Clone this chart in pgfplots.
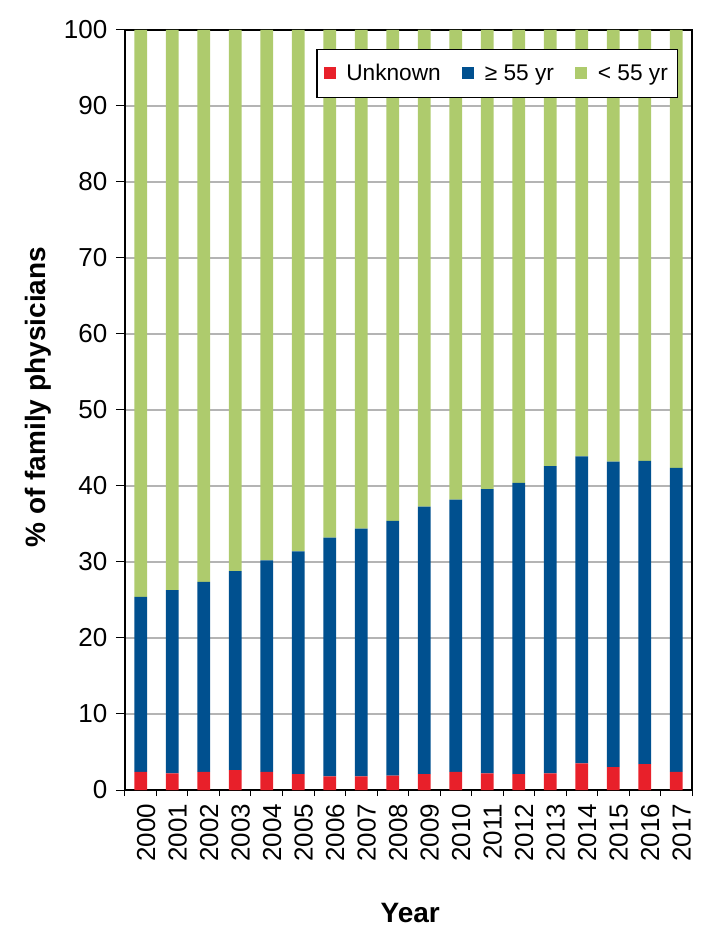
\documentclass[border=0pt]{standalone}
\usepackage{fontspec}
\setmainfont{Liberation Sans}
\usepackage{pgfplots}
\pgfplotsset{compat=1.18}
\usepackage{pgfplotstable}
\definecolor{cred}{HTML}{E8202A}
\definecolor{cblue}{HTML}{00508F}
\definecolor{cgreen}{HTML}{AECB6D}
\definecolor{cgrid}{HTML}{B4B4B4}
\pgfplotstableread{
x unk ge lt
0 2.4 23.0 74.6
1 2.2 24.1 73.7
2 2.4 25.0 72.6
3 2.6 26.2 71.2
4 2.4 27.8 69.8
5 2.1 29.3 68.6
6 1.8 31.4 66.8
7 1.8 32.6 65.6
8 1.9 33.5 64.6
9 2.1 35.2 62.7
10 2.4 35.8 61.8
11 2.2 37.4 60.4
12 2.1 38.3 59.6
13 2.2 40.4 57.4
14 3.5 40.4 56.1
15 3.0 40.2 56.8
16 3.4 39.9 56.7
17 2.4 40.0 57.6
}\datatable
\begin{document}
\begin{tikzpicture}
\useasboundingbox (-93.75pt,-103.5pt) rectangle (446.25pt,592.5pt);
\begin{axis}[
  scale only axis, width=425.25pt, height=570pt,
  ybar stacked, bar width=9.5pt,
  xmin=-0.5, xmax=17.5, ymin=0, ymax=100,
  xtick={0,...,17},
  xticklabels={2000,2001,2002,2003,2004,2005,2006,2007,2008,2009,2010,2011,2012,2013,2014,2015,2016,2017},
  minor xtick={-0.5,0.5,...,17.5},
  major x tick style={draw=none},
  minor tick length=4.5pt,
  ytick={0,10,...,100},
  major tick length=6.75pt,
  tick align=outside, tick pos=left,
  tick style={line width=0.75pt, black},
  axis line style={line width=0.9pt},
  ymajorgrids, major grid style={draw=cgrid, line width=1.4pt},
  /pgf/number format/assume math mode=true,
  x tick label style={rotate=90, anchor=east, font=\fontsize{19.5}{20}\selectfont, yshift=-4pt},
  y tick label style={font=\fontsize{19.5}{20}\selectfont, xshift=-3pt},
  ylabel={\% of family physicians},
  ylabel style={font=\fontsize{21}{22}\selectfont\bfseries, at={(axis description cs:-0.153,0.517)}, anchor=center},
  xlabel={Year},
  xlabel style={font=\fontsize{21}{22}\selectfont\bfseries, at={(axis description cs:0.503,-0.162)}, anchor=center},
  legend image code/.code={\fill[#1] (0pt,-4.5pt) rectangle (9pt,4.5pt);},
  legend style={at={(0.975,0.975)}, anchor=north east, draw=black, line width=0.9pt,
    font=\fontsize{17}{18}\selectfont, legend columns=3,
    /tikz/every odd column/.append style={column sep=6pt},
    /tikz/every even column/.append style={column sep=14pt},
    inner xsep=5pt, inner ysep=9pt},
]
\addplot[fill=cred, draw=none] table[x=x, y=unk] {\datatable};
\addplot[fill=cblue, draw=none] table[x=x, y=ge] {\datatable};
\addplot[fill=cgreen, draw=none] table[x=x, y=lt] {\datatable};
\legend{Unknown, ≥ 55 yr, < 55 yr}
\end{axis}
\end{tikzpicture}
\end{document}
